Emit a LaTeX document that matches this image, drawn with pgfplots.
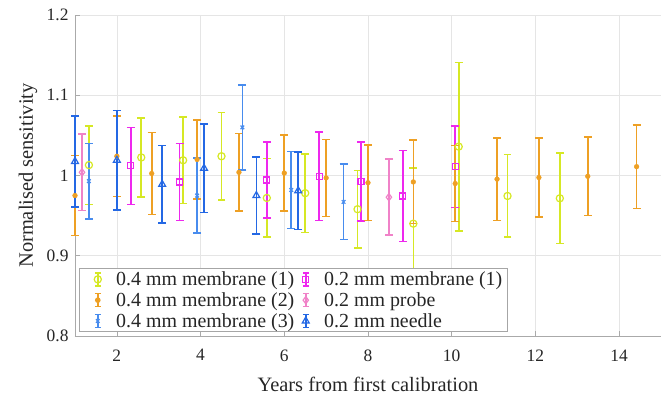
\documentclass[border=0pt]{standalone}
\usepackage{fontspec}
\setmainfont{Liberation Serif}
\usepackage{pgfplots}
\usepackage{pgfplotstable}
\pgfplotsset{compat=1.18}

\definecolor{cYel}{RGB}{214,232,36}
\definecolor{cOra}{RGB}{238,160,36}
\definecolor{cBlx}{RGB}{72,140,238}
\definecolor{cMag}{RGB}{238,40,238}
\definecolor{cPnk}{RGB}{240,130,200}
\definecolor{cBtr}{RGB}{36,104,228}
\definecolor{cAxis}{RGB}{170,170,170}

% x: years, y: normalised sensitivity, e: half-width of uncertainty
\pgfplotstableread{
x y e
1.333 1.0130 0.0490
2.583 1.0225 0.0495
3.583 1.0190 0.0540
4.500 1.0240 0.0545
5.583 0.9720 0.0490
6.500 0.9780 0.0490
7.750 0.9580 0.0480
9.083 0.9400 0.0690
10.167 1.0360 0.1050
11.333 0.9745 0.0515
12.583 0.9716 0.0565
}\membOne
\pgfplotstableread{
x y e
1.000 0.9750 0.0500
2.000 1.0240 0.0500
2.833 1.0025 0.0510
3.917 1.0200 0.0495
4.917 1.0040 0.0485
6.000 1.0030 0.0475
7.000 0.9970 0.0480
8.000 0.9910 0.0470
9.083 0.9920 0.0520
10.083 0.9900 0.0475
11.083 0.9955 0.0515
12.083 0.9975 0.0495
13.250 0.9990 0.0490
14.417 1.0110 0.0520
}\membTwo
\pgfplotstableread{
x y e
1.333 0.9930 0.0470
3.917 0.9750 0.0470
5.000 1.0600 0.0530
6.167 0.9820 0.0480
7.417 0.9670 0.0470
}\membThree
\pgfplotstableread{
x y e
2.333 1.0120 0.0480
3.500 0.9920 0.0480
5.583 0.9945 0.0475
6.833 0.9990 0.0550
7.833 0.9925 0.0495
8.833 0.9745 0.0565
10.083 1.0110 0.0510
}\smallMemb
\pgfplotstableread{
x y e
1.167 1.0040 0.0475
8.500 0.9730 0.0475
}\smallProbe
\pgfplotstableread{
x y e
1.000 1.0175 0.0570
2.000 1.0190 0.0620
3.083 0.9890 0.0485
4.083 1.0090 0.0550
5.333 0.9750 0.0480
6.333 0.9810 0.0485
}\smallNeedle

\pgfplotsset{
  % marker and legend icon: a capped vertical bar with the marker on it
  emark/.style={
    only marks,
    legend image code/.code={
      \path (0bp,0bp) (31bp,0bp);
      \draw[solid, line width=1.5pt] (15bp,-6.5bp) -- (15bp,6.5bp)
        (12bp,-6.5bp) -- (18bp,-6.5bp)
        (12bp,6.5bp) -- (18bp,6.5bp);
      \draw plot[only marks] coordinates {(15bp,0bp)};
    },
  },
  % vertical error bars (must come last in the option list)
  ebar/.style={
    error bars/.cd, y dir=both, y explicit,
    error bar style={solid, line width=1.6pt},
    error mark options={solid, rotate=90, mark size=4pt, line width=1.6pt},
  },
}

\begin{document}
\begin{tikzpicture}
\begin{axis}[
  scale only axis,
  width=586bp, height=321bp,
  xmin=1, xmax=15, ymin=0.8, ymax=1.2,
  xtick={2,4,...,14},
  ytick={0.8,0.9,1,1.1,1.2},
  axis x line*=bottom, axis y line*=left,
  axis line style={draw=cAxis, line width=0.8pt, -},
  tick style={draw=cAxis, line width=0.6pt},
  tick align=inside,
  major tick length=5pt,
  grid=major,
  major grid style={draw=black!10, line width=0.6pt},
  /pgf/number format/assume math mode=true,
  tick label style={font=\fontsize{17.5}{20}\selectfont, text=black!85},
  xticklabel style={yshift=-10bp},
  yticklabel style={xshift=-3bp},
  label style={font=\fontsize{20.5}{24}\selectfont, text=black!85},
  xlabel={Years from first calibration},
  ylabel={Normalised sensitivity},
  xlabel style={at={(axis description cs:0.5,0)}, anchor=base, yshift=-55bp},
  ylabel style={at={(axis description cs:0,0.5)}, anchor=base, yshift=42bp},
  legend columns=2,
  legend style={
    at={(4bp,4bp)}, anchor=south west,
    draw=black!35, line width=0.8pt, fill=white,
    font=\fontsize{20}{22}\selectfont, text=black!85,
    inner xsep=3pt, inner ysep=1pt,
    row sep=1.5pt,
    /tikz/every even column/.append style={column sep=-6pt},
  },
  legend cell align=left,
  clip=false,
]
\addplot[emark, color=cYel, mark=o, mark size=3.6pt,
  mark options={solid, line width=1.2pt, fill=none}, ebar]
  table[x=x, y=y, y error=e] {\membOne};
\addlegendentry{0.4 mm membrane (1)}
\addplot[emark, color=cMag, mark=square, mark size=3pt,
  mark options={solid, line width=1.2pt, fill=none}, ebar]
  table[x=x, y=y, y error=e] {\smallMemb};
\addlegendentry{0.2 mm membrane (1)}
\addplot[emark, color=cOra, mark=*, mark size=2.4pt,
  mark options={solid, fill=cOra}, ebar]
  table[x=x, y=y, y error=e] {\membTwo};
\addlegendentry{0.4 mm membrane (2)}
\addplot[emark, color=cPnk, mark=diamond, mark size=3.6pt,
  mark options={solid, line width=1.2pt, fill=none}, ebar]
  table[x=x, y=y, y error=e] {\smallProbe};
\addlegendentry{0.2 mm probe}
\addplot[emark, color=cBlx, mark=x, mark size=2.6pt,
  mark options={solid, line width=1.2pt}, ebar]
  table[x=x, y=y, y error=e] {\membThree};
\addlegendentry{0.4 mm membrane (3)}
\addplot[emark, color=cBtr, mark=triangle, mark size=4pt,
  mark options={solid, line width=1.2pt, fill=none}, ebar]
  table[x=x, y=y, y error=e] {\smallNeedle};
\addlegendentry{0.2 mm needle}
\end{axis}
\pgfresetboundingbox
\path[use as bounding box] (-75bp,-64bp) rectangle (590bp,336bp);
\end{tikzpicture}
\end{document}
